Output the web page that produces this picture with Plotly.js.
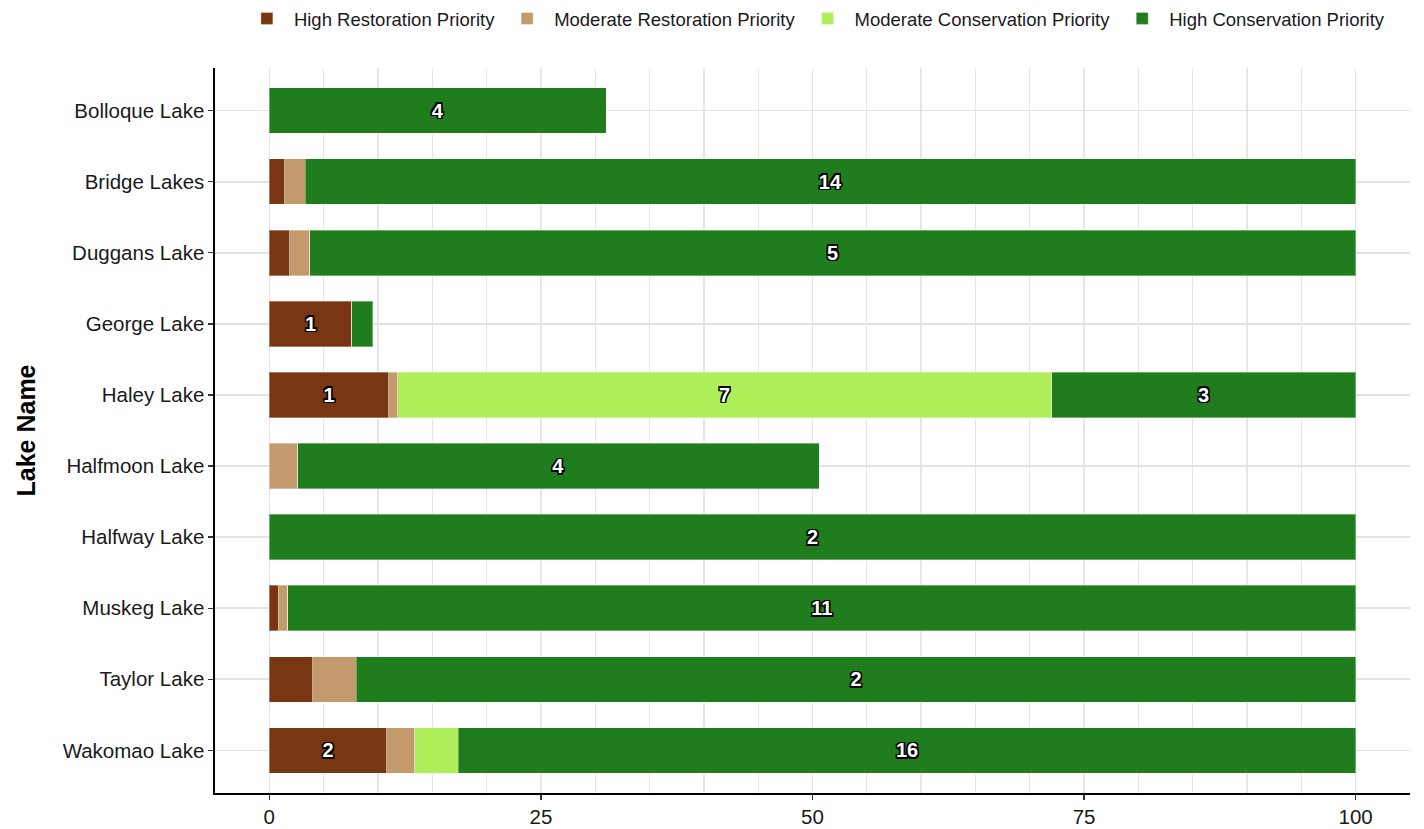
<!DOCTYPE html>
<html>
<head>
<meta charset="utf-8">
<script src="https://cdn.plot.ly/plotly-3.0.1.min.js"></script>
<style>html,body{margin:0;padding:0;background:#fff;}#chart{width:1424px;height:829px;}</style>
</head>
<body>
<div id="chart"></div>
<script>
const lakes = ["Bolloque Lake","Bridge Lakes","Duggans Lake","George Lake","Haley Lake","Halfmoon Lake","Halfway Lake","Muskeg Lake","Taylor Lake","Wakomao Lake"];
const seriesNames = ["High Restoration Priority","Moderate Restoration Priority","Moderate Conservation Priority","High Conservation Priority"];
const highRestoration   = [0, 1.4, 1.9, 7.6, 11.0, 0,   0, 0.8, 4.0, 10.8];
const modRestoration    = [0, 1.9, 1.8, 0,   0.8,  2.6, 0, 0.9, 4.0, 2.6];
const modConservation   = [0, 0,   0,   0,   60.2, 0,   0, 0,   0,   4.0];
const highConservation  = [31.0, 96.7, 96.3, 1.9, 28.0, 48.0, 100, 98.3, 92.0, 82.6];
const lblHighRestoration  = ["","","","1","1","","","","","2"];
const lblModRestoration   = ["","","","","","","","","",""];
const lblModConservation  = ["","","","","7","","","","",""];
const lblHighConservation = ["4","14","5","","3","4","2","11","2","16"];
const colors = ["#783613","#C39A6B","#AEEF59","#207D1E"];

const values = [highRestoration, modRestoration, modConservation, highConservation];
const labels = [lblHighRestoration, lblModRestoration, lblModConservation, lblHighConservation];

const outline = "1.5px 1.5px 0 #000, -1.5px -1.5px 0 #000, 1.5px -1.5px 0 #000, -1.5px 1.5px 0 #000, 0 1.5px 0 #000, 0 -1.5px 0 #000, 1.5px 0 0 #000, -1.5px 0 0 #000";

const traces = seriesNames.map((name, i) => ({
  type: "bar",
  orientation: "h",
  name: name,
  y: lakes,
  x: values[i],
  text: labels[i],
  textposition: "inside",
  insidetextanchor: "middle",
  textangle: 0,
  constraintext: "none",
  cliponaxis: false,
  textfont: {family: "Liberation Sans, Arial, sans-serif", size: 20, color: "#ffffff", weight: "bold", shadow: outline},
  marker: {color: colors[i], line: {color: "rgba(255,255,255,0.35)", width: 1}},
  hoverinfo: "x+y+name"
}));

const layout = {
  width: 1424, height: 829,
  barmode: "stack",
  bargap: 0.36,
  paper_bgcolor: "#ffffff",
  plot_bgcolor: "#ffffff",
  margin: {l: 215, r: 14, t: 68, b: 36, autoexpand: false},
  font: {family: "Liberation Sans, Arial, sans-serif", color: "#1a1a1a"},
  showlegend: true,
  legend: {orientation: "h", x: 0.502, xanchor: "center", y: 1.094, yanchor: "top", font: {size: 18.5, color: "#1a1a1a"}, traceorder: "normal", itemwidth: 44, tracegroupgap: 0},
  xaxis: {
    range: [-5, 105],
    tickmode: "array",
    tickvals: [0, 25, 50, 75, 100],
    ticktext: ["0", "25", "50", "75", "100"],
    showgrid: true, gridcolor: "#e6e6e6", gridwidth: 1.3,
    minor: {tickmode: "linear", tick0: 0, dtick: 5, showgrid: true, gridcolor: "#e6e6e6", gridwidth: 1.3, ticks: ""},
    zeroline: false,
    showline: true, linecolor: "#000", linewidth: 1.6,
    ticks: "outside", ticklen: 5, tickcolor: "#333", tickwidth: 1.3,
    tickfont: {size: 20.5, color: "#1a1a1a"}
  },
  yaxis: {
    type: "category",
    categoryorder: "array",
    categoryarray: lakes,
    range: [9.6, -0.6],
    showgrid: true, gridcolor: "#e3e3e3", gridwidth: 1.6,
    zeroline: false,
    showline: true, linecolor: "#000", linewidth: 1.6,
    ticks: "outside", ticklen: 5, tickcolor: "#333", tickwidth: 1.3,
    tickfont: {size: 20.5, color: "#1a1a1a"},
    title: {text: "<b>Lake Name</b>", font: {size: 25, color: "#000"}, standoff: 20}
  }
};

Plotly.newPlot("chart", traces, layout, {displayModeBar: false, staticPlot: true});
</script>
</body>
</html>
